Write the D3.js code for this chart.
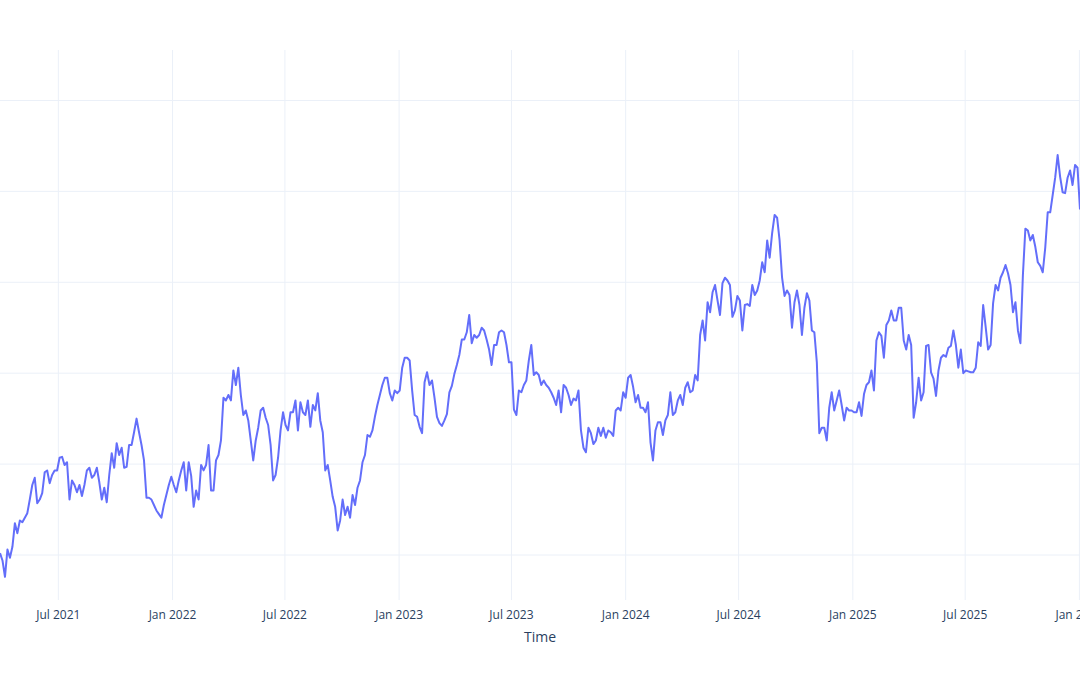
<!DOCTYPE html>
<html lang="en">
<head>
    <meta charset="UTF-8">
    <title>Time series</title>
    <script src="https://d3js.org/d3.v7.min.js"></script>
    <style>
        body { margin: 0; background: #fff; overflow: hidden; }
        #chart { width: 1080px; height: 675px; }
        .grid line { stroke: #ebf0f8; stroke-width: 1px; }
        .tick-label { font-family: "Open Sans", verdana, arial, sans-serif; font-size: 12px; fill: #2a3f5f; }
        .axis-title { font-family: "Open Sans", verdana, arial, sans-serif; font-size: 14px; fill: #2a3f5f; }
    </style>
</head>
<body>
    <div id="chart"></div>

    <script>
        // series: one reading every 4 days starting 2021-03-29
        const startDate = "2021-03-29";
        const stepDays = 4;
        const values = [
            502, 494, 476, 506, 497, 509, 535, 524, 538, 536,
            541, 546, 561, 577, 585, 557, 561, 568, 591, 593,
            579, 588, 593, 593, 607, 608, 599, 602, 561, 582,
            577, 569, 577, 565, 577, 593, 596, 585, 588, 596,
            580, 561, 574, 558, 588, 612, 596, 623, 610, 618,
            596, 597, 621, 621, 635, 650, 635, 621, 604, 563,
            563, 561, 555, 549, 545, 541, 555, 566, 577, 586,
            577, 569, 582, 593, 602, 571, 602, 587, 553, 571,
            561, 599, 593, 599, 621, 571, 571, 604, 610, 626,
            673, 670, 676, 670, 703, 687, 706, 676, 654, 659,
            648, 626, 604, 626, 640, 659, 662, 651, 643, 621,
            582, 588, 607, 637, 657, 643, 637, 657, 657, 670,
            637, 668, 657, 654, 670, 641, 665, 659, 678, 648,
            635, 593, 599, 582, 564, 553, 527, 538, 561, 544,
            553, 541, 566, 555, 574, 582, 602, 610, 632, 630,
            637, 652, 665, 676, 687, 695, 695, 678, 670, 681,
            678, 681, 706, 717, 717, 714, 681, 654, 652, 641,
            634, 690, 701, 687, 692, 673, 652, 645, 642, 648,
            655, 679, 686, 699, 709, 720, 737, 737, 745, 764,
            733, 742, 739, 742, 750, 747, 737, 726, 709, 731,
            731, 745, 747, 745, 731, 712, 712, 660, 654, 681,
            679, 687, 692, 714, 731, 698, 701, 698, 687, 692,
            687, 684, 679, 673, 665, 681, 657, 687, 684, 676,
            665, 672, 670, 681, 637, 618, 613, 640, 634, 622,
            626, 640, 631, 640, 629, 637, 635, 631, 659, 662,
            659, 679, 673, 695, 698, 685, 668, 676, 662, 662,
            657, 668, 624, 604, 637, 646, 646, 632, 648, 654,
            679, 654, 657, 670, 676, 665, 684, 690, 679, 681,
            698, 692, 742, 758, 736, 778, 767, 789, 797, 780,
            764, 799, 805, 802, 797, 762, 769, 785, 780, 747,
            775, 776, 774, 797, 786, 791, 802, 822, 811, 846,
            827, 854, 874, 871, 846, 805, 785, 791, 786, 750,
            778, 791, 775, 742, 772, 788, 780, 747, 745, 712,
            634, 640, 640, 626, 662, 679, 659, 670, 681, 665,
            648, 662, 659, 659, 657, 657, 668, 653, 677, 687,
            690, 703, 681, 736, 745, 741, 717, 753, 758, 769,
            758, 758, 772, 772, 736, 726, 742, 731, 651, 668,
            695, 670, 679, 730, 731, 701, 694, 675, 703, 717,
            720, 718, 728, 730, 747, 731, 706, 726, 700, 703,
            702, 701, 701, 706, 734, 730, 775, 751, 726, 731,
            777, 797, 791, 805, 811, 819, 810, 797, 767, 778,
            747, 733, 808, 859, 857, 846, 852, 839, 822, 818,
            811, 838, 877, 877, 896, 915, 940, 916, 899, 898,
            915, 923, 907, 929, 926, 880
        ];
        const yGridValues = [500, 600, 700, 800, 900, 1000];
        const yRange = [450.5, 1055.5];
        const xTitle = "Time";

        const width = 1080, height = 675;
        const margin = { top: 50, right: 0, bottom: 75, left: 0 };
        const plotW = width - margin.left - margin.right;
        const plotH = height - margin.top - margin.bottom;

        const start = d3.utcParse("%Y-%m-%d")(startDate);
        const data = values.map((v, i) => ({ date: d3.utcDay.offset(start, i * stepDays), value: v }));

        const svg = d3.select("#chart")
            .append("svg")
            .attr("width", width)
            .attr("height", height)
            .style("overflow", "visible");

        const g = svg.append("g")
            .attr("transform", `translate(${margin.left},${margin.top})`);

        const x = d3.scaleUtc()
            .domain(d3.extent(data, d => d.date))
            .range([0, plotW]);

        const y = d3.scaleLinear()
            .domain(yRange)
            .range([plotH, 0]);

        const xTicks = d3.utcMonth.every(6).range(x.domain()[0], d3.utcDay.offset(x.domain()[1], 1));
        const fmt = d3.utcFormat("%b %Y");

        // grid lines
        g.append("g").attr("class", "grid")
            .selectAll("line")
            .data(xTicks)
            .join("line")
            .attr("x1", d => x(d)).attr("x2", d => x(d))
            .attr("y1", 0).attr("y2", plotH);

        g.append("g").attr("class", "grid")
            .selectAll("line")
            .data(yGridValues)
            .join("line")
            .attr("x1", 0).attr("x2", plotW)
            .attr("y1", d => y(d)).attr("y2", d => y(d));

        // x tick labels
        g.append("g")
            .selectAll("text")
            .data(xTicks)
            .join("text")
            .attr("class", "tick-label")
            .attr("x", d => x(d))
            .attr("y", plotH + 19)
            .attr("text-anchor", "middle")
            .text(d => fmt(d));

        g.append("text")
            .attr("class", "axis-title")
            .attr("x", plotW / 2)
            .attr("y", plotH + 42)
            .attr("text-anchor", "middle")
            .text(xTitle);

        // clip line to plot area
        svg.append("clipPath").attr("id", "clip")
            .append("rect").attr("width", plotW).attr("height", plotH);

        const line = d3.line()
            .x(d => x(d.date))
            .y(d => y(d.value));

        g.append("path")
            .datum(data)
            .attr("clip-path", "url(#clip)")
            .attr("fill", "none")
            .attr("stroke", "#636efa")
            .attr("stroke-width", 2)
            .attr("stroke-linejoin", "round")
            .attr("d", line);
    </script>
</body>
</html>
